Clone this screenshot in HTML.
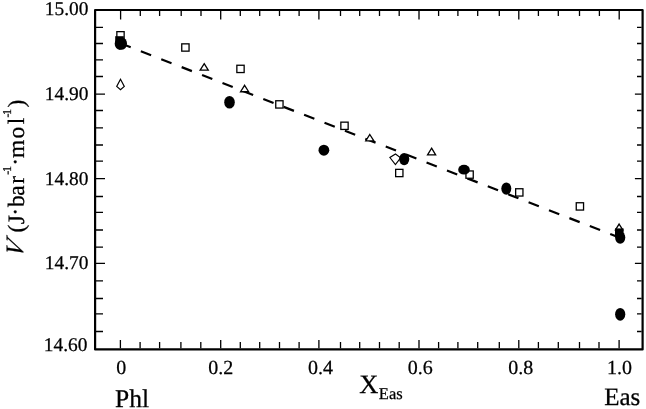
<!DOCTYPE html><html><head><meta charset="utf-8"><style>html,body{margin:0;padding:0;background:#fff;width:646px;height:409px;overflow:hidden}</style></head><body><svg width="646" height="409" viewBox="0 0 646 409" style="display:block;will-change:transform" text-rendering="geometricPrecision"><rect width="646" height="409" fill="#fff"/><path d="M120.40 348.3V340.00 M120.60 10.9V19.50 M140.10 348.3V342.00 M140.30 10.9V15.90 M159.60 348.3V342.00 M159.60 10.9V15.90 M180.90 348.3V342.00 M181.20 10.9V15.90 M200.80 348.3V342.00 M201.00 10.9V15.90 M220.70 348.3V340.00 M220.70 10.9V19.50 M240.30 348.3V342.00 M240.30 10.9V15.90 M259.70 348.3V342.00 M259.70 10.9V15.90 M279.50 348.3V342.00 M279.50 10.9V15.90 M299.10 348.3V342.00 M299.10 10.9V15.90 M318.90 348.3V340.00 M318.90 10.9V19.50 M340.50 348.3V342.00 M340.50 10.9V15.90 M359.70 348.3V342.00 M359.70 10.9V15.90 M379.50 348.3V342.00 M379.50 10.9V15.90 M399.20 348.3V342.00 M399.20 10.9V15.90 M419.00 348.3V340.00 M419.00 10.9V19.50 M438.60 348.3V342.00 M438.60 10.9V15.90 M457.90 348.3V342.00 M457.90 10.9V15.90 M477.70 348.3V342.00 M477.70 10.9V15.90 M499.30 348.3V342.00 M499.30 10.9V15.90 M518.80 348.3V340.00 M518.80 10.9V19.50 M538.40 348.3V342.00 M538.40 10.9V15.90 M558.30 348.3V342.00 M558.30 10.9V15.90 M579.50 348.3V342.00 M579.50 10.9V15.90 M599.00 348.3V342.00 M599.40 10.9V15.90 M619.10 348.3V340.00 M619.20 10.9V19.50 M96 27.40H103 M641.6 27.40H637.00 M96 43.50H103 M641.6 43.50H637.00 M96 59.90H103 M641.6 59.90H637.00 M96 76.50H103 M641.6 76.50H637.00 M96 94.10H105 M641.6 94.10H634.90 M96 110.50H103 M641.6 110.50H637.00 M96 127.90H103 M641.6 127.90H637.00 M96 145.00H103 M641.6 145.00H637.00 M96 161.10H103 M641.6 161.10H637.00 M96 178.70H105 M641.6 178.70H634.90 M96 196.50H103 M641.6 196.50H637.00 M96 212.40H103 M641.6 212.40H637.00 M96 230.00H103 M641.6 230.00H637.00 M96 247.10H103 M641.6 247.10H637.00 M96 263.40H105 M641.6 263.40H634.90 M96 280.90H103 M641.6 280.90H637.00 M96 298.50H103 M641.6 298.50H637.00 M96 313.90H103 M641.6 313.90H637.00 M96 331.50H103 M641.6 331.50H637.00" stroke="#000" stroke-width="1.3" fill="none"/><path d="M95.1 10H642.6V349.4H95.1Z" stroke="#000" stroke-width="2.2" fill="none" stroke-linejoin="round"/><path d="M120.44 43.3L619.2 237.5" stroke="#000" stroke-width="2.2" stroke-dasharray="11 10.9" fill="none"/><rect x="116.85" y="31.65" width="7.30" height="7.30" fill="#fff" stroke="#000" stroke-width="1.3"/><rect x="181.75" y="43.85" width="7.30" height="7.30" fill="#fff" stroke="#000" stroke-width="1.3"/><rect x="236.85" y="65.25" width="7.30" height="7.30" fill="#fff" stroke="#000" stroke-width="1.3"/><rect x="275.75" y="100.75" width="7.30" height="7.30" fill="#fff" stroke="#000" stroke-width="1.3"/><rect x="340.85" y="122.15" width="7.30" height="7.30" fill="#fff" stroke="#000" stroke-width="1.3"/><rect x="395.65" y="169.35" width="7.30" height="7.30" fill="#fff" stroke="#000" stroke-width="1.3"/><rect x="465.95" y="170.95" width="7.30" height="7.30" fill="#fff" stroke="#000" stroke-width="1.3"/><rect x="515.65" y="188.75" width="7.30" height="7.30" fill="#fff" stroke="#000" stroke-width="1.3"/><rect x="576.25" y="202.75" width="7.30" height="7.30" fill="#fff" stroke="#000" stroke-width="1.3"/><path d="M204.20 63.69L208.26 70.15H200.14Z" fill="#fff" stroke="#000" stroke-width="1.3" stroke-linejoin="miter"/><path d="M244.60 85.28L248.66 91.75H240.54Z" fill="#fff" stroke="#000" stroke-width="1.3" stroke-linejoin="miter"/><path d="M369.80 134.49L373.86 140.95H365.74Z" fill="#fff" stroke="#000" stroke-width="1.3" stroke-linejoin="miter"/><path d="M431.60 148.19L435.66 154.95H427.54Z" fill="#fff" stroke="#000" stroke-width="1.3" stroke-linejoin="miter"/><path d="M619.10 224.09L622.76 229.95H615.44Z" fill="#fff" stroke="#000" stroke-width="1.3" stroke-linejoin="miter"/><path d="M120.50 79.20L124.30 86.40L120.50 89.80L116.70 86.40Z" fill="#fff" stroke="#000" stroke-width="1.15" stroke-linejoin="miter"/><path d="M395.50 154.00L400.60 157.80L395.40 164.60L389.90 157.50Z" fill="#fff" stroke="#000" stroke-width="1.15" stroke-linejoin="miter"/><rect x="115.20" y="36.20" width="8.60" height="8.60" fill="#000"/><rect x="615.00" y="228.40" width="8.60" height="8.60" fill="#000"/><ellipse cx="119.80" cy="43.80" rx="5.1" ry="6.1" fill="#000"/><ellipse cx="121.90" cy="43.60" rx="5.1" ry="6.1" fill="#000"/><ellipse cx="229.50" cy="102.20" rx="5.3" ry="6.3" fill="#000"/><ellipse cx="323.90" cy="150.20" rx="5.4" ry="5.5" fill="#000"/><ellipse cx="404.20" cy="159.10" rx="5.1" ry="6.1" fill="#000"/><ellipse cx="506.30" cy="188.60" rx="5.0" ry="6.1" fill="#000"/><ellipse cx="620.20" cy="237.60" rx="5.1" ry="6.1" fill="#000"/><ellipse cx="620.20" cy="314.30" rx="5.1" ry="6.4" fill="#000"/><ellipse cx="464.00" cy="169.70" rx="5.8" ry="4.9" fill="#000"/><text x="88.40" y="15.19" font-family="Liberation Serif, serif" stroke="#000" stroke-width="0.25" font-size="19.4" text-anchor="end">15.00</text><text x="88.40" y="100.29" font-family="Liberation Serif, serif" stroke="#000" stroke-width="0.25" font-size="19.4" text-anchor="end">14.90</text><text x="88.40" y="184.79" font-family="Liberation Serif, serif" stroke="#000" stroke-width="0.25" font-size="19.4" text-anchor="end">14.80</text><text x="88.40" y="269.39" font-family="Liberation Serif, serif" stroke="#000" stroke-width="0.25" font-size="19.4" text-anchor="end">14.70</text><text x="87.40" y="350.79" font-family="Liberation Serif, serif" stroke="#000" stroke-width="0.25" font-size="19.4" text-anchor="end">14.60</text><text x="121.24" y="373.9" font-family="Liberation Serif, serif" stroke="#000" stroke-width="0.25" font-size="20" text-anchor="middle">0</text><text x="220.87" y="373.9" font-family="Liberation Serif, serif" stroke="#000" stroke-width="0.25" font-size="20" text-anchor="middle">0.2</text><text x="320.50" y="373.9" font-family="Liberation Serif, serif" stroke="#000" stroke-width="0.25" font-size="20" text-anchor="middle">0.4</text><text x="420.14" y="373.9" font-family="Liberation Serif, serif" stroke="#000" stroke-width="0.25" font-size="20" text-anchor="middle">0.6</text><text x="520.67" y="373.9" font-family="Liberation Serif, serif" stroke="#000" stroke-width="0.25" font-size="20" text-anchor="middle">0.8</text><text x="619.40" y="373.9" font-family="Liberation Serif, serif" stroke="#000" stroke-width="0.25" font-size="20" text-anchor="middle">1.0</text><text x="115.1" y="406.7" font-family="Liberation Serif, serif" stroke="#000" stroke-width="0.25" font-size="25.5">Phl</text><text x="604.2" y="405.4" font-family="Liberation Serif, serif" stroke="#000" stroke-width="0.25" font-size="25">Eas</text><text x="359.3" y="393.1" font-family="Liberation Serif, serif" stroke="#000" stroke-width="0.25" font-size="26.5">X<tspan font-size="16.5" dx="0.4" dy="6.3">Eas</tspan></text><g transform="translate(23.8,252.4) rotate(-90)" font-family="Liberation Serif, serif" stroke="#000" stroke-width="0.25"><g transform="translate(-6.3,-1.1) skewX(-20.6)"><text x="0.00" y="0.00" font-size="25" font-style="italic">V</text></g><text x="19.80" y="0.00" font-size="23.5" >(</text><text x="28.10" y="0.00" font-size="23.5" >J</text><text x="45.30" y="0.00" font-size="23.5" >b</text><text x="56.60" y="0.00" font-size="23.5" >a</text><text x="68.70" y="0.00" font-size="23.5" >r</text><text x="94.40" y="0.00" font-size="23.5" >m</text><text x="114.00" y="0.00" font-size="23.5" >o</text><text x="128.10" y="0.00" font-size="23.5" >l</text><text x="144.80" y="0.00" font-size="23.5" >)</text><text x="36.70" y="-0.90" font-size="23.5" >·</text><text x="86.60" y="-0.90" font-size="23.5" >·</text><text x="77.60" y="-12.60" font-size="12.0" >-</text><text x="80.40" y="-12.60" font-size="12.0" >1</text><text x="134.90" y="-12.60" font-size="12.0" >-</text><text x="137.30" y="-12.60" font-size="12.0" >1</text></g></svg></body></html>
